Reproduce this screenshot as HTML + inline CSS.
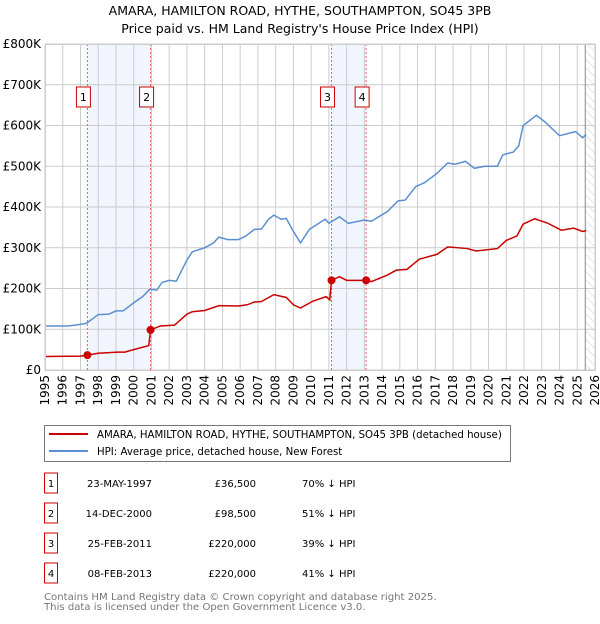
<!DOCTYPE html>
<html><head><meta charset="utf-8"><style>
body{margin:0;background:#fff;width:600px;height:620px;overflow:hidden;font-family:"DejaVu Sans","Liberation Sans",sans-serif;}
svg text{font-family:"DejaVu Sans","Liberation Sans",sans-serif;}
</style></head><body>
<svg id="c" width="600" height="620" xmlns="http://www.w3.org/2000/svg">
<defs><pattern id="hatch" width="6" height="6" patternUnits="userSpaceOnUse" patternTransform="rotate(-45)"><line x1="0" y1="0" x2="0" y2="6" stroke="#ccc" stroke-width="1"/></pattern></defs>
<text x="300" y="15" text-anchor="middle" font-size="12.5" fill="#000">AMARA, HAMILTON ROAD, HYTHE, SOUTHAMPTON, SO45 3PB</text>
<text x="300" y="33" text-anchor="middle" font-size="12.5" fill="#000">Price paid vs. HM Land Registry's House Price Index (HPI)</text>
<g id="plot"></g>
<g>
<rect x="44.5" y="425.5" width="466" height="36" fill="#fff" stroke="#777"/>
<line x1="49" y1="434" x2="88" y2="434" stroke="#cc0000" stroke-width="2"/>
<text x="97" y="438" font-size="10.2">AMARA, HAMILTON ROAD, HYTHE, SOUTHAMPTON, SO45 3PB (detached house)</text>
<line x1="49" y1="451" x2="88" y2="451" stroke="#5b8fd1" stroke-width="2"/>
<text x="97" y="455" font-size="10.2">HPI: Average price, detached house, New Forest</text>
</g>
<g id="table"></g>
<text x="44" y="600" font-size="10.1" fill="#777">Contains HM Land Registry data © Crown copyright and database right 2025.</text>
<text x="44" y="610" font-size="10.1" fill="#777">This data is licensed under the Open Government Licence v3.0.</text>
</svg>
<script>
const hpiYears=[1995,1996.3,1997,1997.35,1998,1998.6,1999,1999.4,2000,2000.5,2000.9,2001.3,2001.6,2002,2002.4,2003,2003.3,2004,2004.5,2004.8,2005.3,2005.9,2006.3,2006.8,2007.2,2007.6,2007.9,2008.3,2008.6,2009,2009.4,2009.9,2010.5,2010.8,2011,2011.6,2012.1,2013,2013.4,2014.3,2014.9,2015.3,2015.9,2016.4,2017.1,2017.7,2018.1,2018.7,2019.2,2019.8,2020.5,2020.8,2021.4,2021.7,2021.95,2022.7,2023.2,2024,2024.9,2025.3,2025.5];
const hpiValues=[108,108,112,115,136,137,145,145,165,180,198,196,215,220,218,270,290,300,312,326,320,320,328,345,346,370,380,370,372,340,312,345,362,370,360,376,360,368,365,389,415,417,450,460,483,508,505,512,495,500,500,528,535,550,600,625,608,575,585,570,578];
const priceYears=[1995,1997,1997.39,1998,1999.1,1999.5,2000,2000.85,2000.95,2001.5,2002.3,2003,2003.3,2004,2004.8,2005.9,2006.4,2006.8,2007.2,2007.9,2008.6,2009,2009.4,2010.1,2010.85,2011.05,2011.15,2011.6,2012,2013.1,2013.4,2014.3,2014.8,2015.4,2016.1,2017.1,2017.7,2018.8,2019.3,2020.5,2021,2021.6,2021.95,2022.6,2023.3,2024.1,2024.8,2025.3,2025.5];
const priceValues=[33,34,36.5,41,44,44,50,60,98.5,108,110,137,143,146,158,157,160,167,168,185,178,160,152,169,180,172,220,229,220,220,217,233,245,247,272,284,302,298,292,298,318,329,358,371,361,343,348,340,342];
const saleYears=[1997.39,2000.95,2011.15,2013.1];
const saleValues=[36.5,98.5,220,220];
const saleLabels=["1","2","3","4"];
const saleDates=["23-MAY-1997","14-DEC-2000","25-FEB-2011","08-FEB-2013"];
const salePrices=["£36,500","£98,500","£220,000","£220,000"];
const saleHpi=["70% ↓ HPI","51% ↓ HPI","39% ↓ HPI","41% ↓ HPI"];
const yTicks=[0,100,200,300,400,500,600,700,800];
const yTickLabels=["£0","£100K","£200K","£300K","£400K","£500K","£600K","£700K","£800K"];
const xTicks=[1995,1996,1997,1998,1999,2000,2001,2002,2003,2004,2005,2006,2007,2008,2009,2010,2011,2012,2013,2014,2015,2016,2017,2018,2019,2020,2021,2022,2023,2024,2025,2026];
const dataEnd=2025.45;

const L=45,R=595,T=44,B=370;
const X=y=>L+(y-1995)/(2026-1995)*(R-L);
const Y=v=>B-v/800*(B-T);
const NS="http://www.w3.org/2000/svg";
const plot=document.getElementById('plot');
function mk(tag,attrs,parent){const e=document.createElementNS(NS,tag);for(const k in attrs)e.setAttribute(k,attrs[k]);(parent||plot).appendChild(e);return e;}

for(let i=0;i<2;i++){
  const r=mk('rect',{x:X(saleYears[2*i]),y:T,width:X(saleYears[2*i+1])-X(saleYears[2*i]),height:B-T,fill:'#eef3fc',opacity:0.8});
  
  
}
const h=mk('rect',{x:X(dataEnd),y:T,width:R-X(dataEnd),height:B-T,fill:'url(#hatch)'});


xTicks.forEach(t=>{
  const g=mk('line',{x1:X(t),x2:X(t),y1:T,y2:B,stroke:'#ccc','stroke-width':1});
  
  
  const tx=mk('text',{x:0,y:0,'font-size':12,'text-anchor':'end',transform:`translate(${X(t)+4},${B+5}) rotate(-90)`});
  tx.textContent=t;
  
  
});
yTicks.forEach((t,i)=>{
  const g=mk('line',{x1:L,x2:R,y1:Y(t),y2:Y(t),stroke:'#ccc','stroke-width':1});
  
  
  const tx=mk('text',{x:L-4,y:Y(t)+4,'font-size':12,'text-anchor':'end'});
  tx.textContent=yTickLabels[i];
  
  
});
const el=mk('line',{x1:X(dataEnd),x2:X(dataEnd),y1:T,y2:B,stroke:'#888','stroke-width':1});


saleYears.forEach((s,i)=>{
  const l=mk('line',{x1:X(s),x2:X(s),y1:T,y2:B,stroke:'#f06060','stroke-width':1,'stroke-dasharray':'2,2'});
  
  
  const cx=X(s)-4;
  const r=mk('rect',{x:cx-7,y:87,width:14,height:20,fill:'#fff',stroke:'#cc0000'});
  
  
  const t=mk('text',{x:cx,y:101,'font-size':11,'text-anchor':'middle'});
  t.textContent=saleLabels[i];
  
  
});
const hp=mk('polyline',{points:hpiYears.map((y,i)=>X(y)+','+Y(hpiValues[i])).join(' '),fill:'none',stroke:'#5b8fd1','stroke-width':1.5});


const pp=mk('polyline',{points:priceYears.map((y,i)=>X(y)+','+Y(priceValues[i])).join(' '),fill:'none',stroke:'#cc0000','stroke-width':1.5});


saleYears.forEach((s,i)=>{
  const c=mk('circle',{cx:X(s),cy:Y(saleValues[i]),r:4,fill:'#cc0000'});
  
  
});
const ax=mk('rect',{x:L+0.5,y:T+0.5,width:R-L,height:B-T,fill:'none',stroke:'#ccc'});


const tb=document.getElementById('table');
saleLabels.forEach((lab,i)=>{
  const cy=483+i*30;
  const r=mk('rect',{x:44.5,y:cy-10,width:13,height:20,fill:'#fff',stroke:'#cc0000'},tb);
  
  
  const t0=mk('text',{x:51,y:cy+4,'font-size':10,'text-anchor':'middle'},tb);t0.textContent=lab;
  
  
  const t1=mk('text',{x:152,y:cy+4,'font-size':10,'text-anchor':'end'},tb);t1.textContent=saleDates[i];
  
  
  const t2=mk('text',{x:256,y:cy+4,'font-size':10,'text-anchor':'end'},tb);t2.textContent=salePrices[i];
  
  
  const t3=mk('text',{x:302,y:cy+4,'font-size':10},tb);t3.textContent=saleHpi[i];
  
  
});
</script>
</body></html>
